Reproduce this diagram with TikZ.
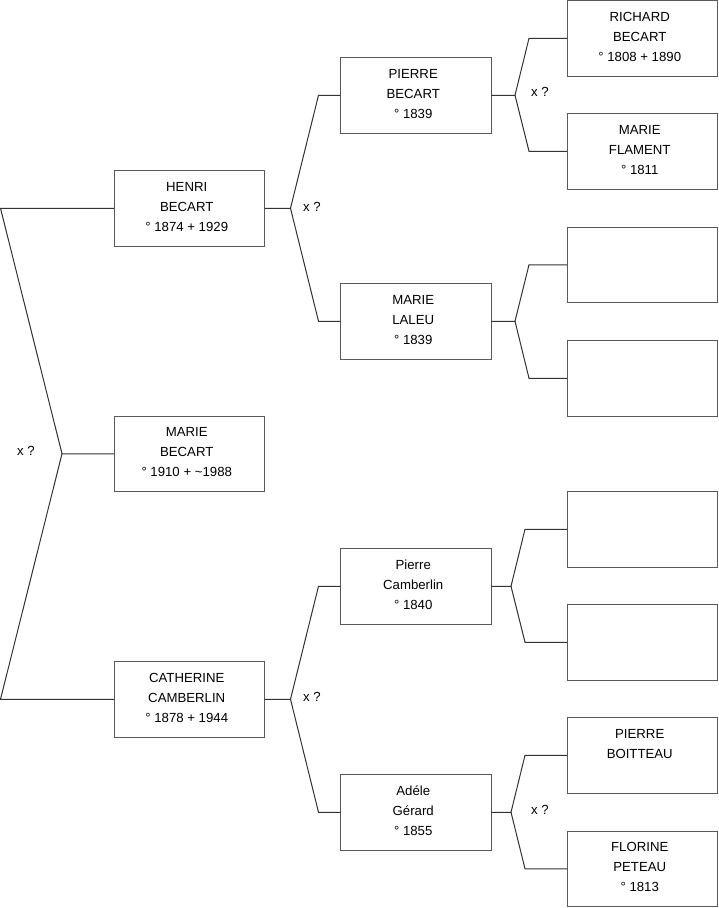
\documentclass[tikz,border=0pt]{standalone}
\usepackage{fontspec}
\setmainfont{Liberation Sans}
\usetikzlibrary{calc}
\newcommand\bxlines[1]{\vbox to 75.5pt{\hsize=150.5pt\parskip=0pt\parindent=0pt\baselineskip=20pt\lineskip=0pt\lineskiplimit=0pt\centering\rightskip=5pt plus 1fil\hbox{}\vskip0.6pt #1\par\vfil}}
\tikzset{
 box/.style={draw=black!65, line width=1pt, inner sep=0pt, outer sep=0pt, anchor=north west, minimum width=150.5pt, minimum height=75.5pt, font=\fontsize{13.2pt}{20pt}\selectfont},
 link/.style={draw=black!80, line width=1pt},
 lab/.style={font=\fontsize{13.2pt}{15pt}\selectfont, inner sep=0pt}
}
\begin{document}
\begin{tikzpicture}[x=1pt,y=-1pt]
\useasboundingbox (0,0) rectangle (719,908);
% column 1
\node[box] (H) at (114,170.5) {\bxlines{HENRI\\BECART\\° 1874 + 1929}};
\node[box] (M) at (114,416) {\bxlines{MARIE\\BECART\\° 1910 + \textasciitilde1988}};
\node[box] (C) at (114,661.5) {\bxlines{CATHERINE\\CAMBERLIN\\° 1878 + 1944}};
% column 2
\node[box] (PB) at (340.5,57.5) {\bxlines{PIERRE\\BECART\\° 1839}};
\node[box] (ML) at (340.5,283.5) {\bxlines{MARIE\\LALEU\\° 1839}};
\node[box] (PC) at (340.5,548.5) {\bxlines{Pierre\\Camberlin\\° 1840}};
\node[box] (AG) at (340.5,774.5) {\bxlines{Adéle\\Gérard\\° 1855}};
% column 3
\node[box] (RB) at (567,0.5) {\bxlines{RICHARD\\BECART\\° 1808 + 1890}};
\node[box] (MF) at (567,113.5) {\bxlines{MARIE\\FLAMENT\\° 1811}};
\node[box] (E1) at (567,227) {\bxlines{}};
\node[box] (E2) at (567,340.5) {\bxlines{}};
\node[box] (E3) at (567,491.5) {\bxlines{}};
\node[box] (E4) at (567,604.5) {\bxlines{}};
\node[box] (PBo) at (567,717.5) {\bxlines{PIERRE\\BOITTEAU}};
\node[box] (FP) at (567,831) {\bxlines{FLORINE\\PETEAU\\° 1813}};
% left fork
\coordinate (xL) at (0.5,0);
\coordinate (fM) at ($(M.west)+(-52,0)$);
\draw[link] (M.west) -- (fM) -- (H.west -| xL) -- (H.west);
\draw[link] (fM) -- (C.west -| xL) -- (C.west);
% H fork
\coordinate (fH) at ($(H.east)+(26,0)$);
\coordinate (xH) at ($(H.east)+(54,0)$);
\draw[link] (H.east) -- (fH) -- (PB.west -| xH) -- (PB.west);
\draw[link] (fH) -- (ML.west -| xH) -- (ML.west);
% C fork
\coordinate (fC) at ($(C.east)+(26,0)$);
\coordinate (xC) at ($(C.east)+(54,0)$);
\draw[link] (C.east) -- (fC) -- (PC.west -| xC) -- (PC.west);
\draw[link] (fC) -- (AG.west -| xC) -- (AG.west);
% PB fork
\coordinate (fPB) at ($(PB.east)+(24,0)$);
\coordinate (xPB) at ($(PB.east)+(38,0)$);
\draw[link] (PB.east) -- (fPB) -- (RB.west -| xPB) -- (RB.west);
\draw[link] (fPB) -- (MF.west -| xPB) -- (MF.west);
% ML fork
\coordinate (fML) at ($(ML.east)+(24,0)$);
\coordinate (xML) at ($(ML.east)+(38,0)$);
\draw[link] (ML.east) -- (fML) -- (E1.west -| xML) -- (E1.west);
\draw[link] (fML) -- (E2.west -| xML) -- (E2.west);
% PC fork
\coordinate (fPC) at ($(PC.east)+(20,0)$);
\coordinate (xPC) at ($(PC.east)+(34,0)$);
\draw[link] (PC.east) -- (fPC) -- (E3.west -| xPC) -- (E3.west);
\draw[link] (fPC) -- (E4.west -| xPC) -- (E4.west);
% AG fork
\coordinate (fAG) at ($(AG.east)+(20,0)$);
\coordinate (xAG) at ($(AG.east)+(34,0)$);
\draw[link] (AG.east) -- (fAG) -- (PBo.west -| xAG) -- (PBo.west);
\draw[link] (fAG) -- (FP.west -| xAG) -- (FP.west);
% labels
\node[lab] (q1) at (26,451) {x ?};
\node[lab] (q2) at (312,207) {x ?};
\node[lab] (q3) at (312,697) {x ?};
\node[lab] (q4) at (540,92) {x ?};
\node[lab] (q5) at (540,810) {x ?};
\end{tikzpicture}
\end{document}
